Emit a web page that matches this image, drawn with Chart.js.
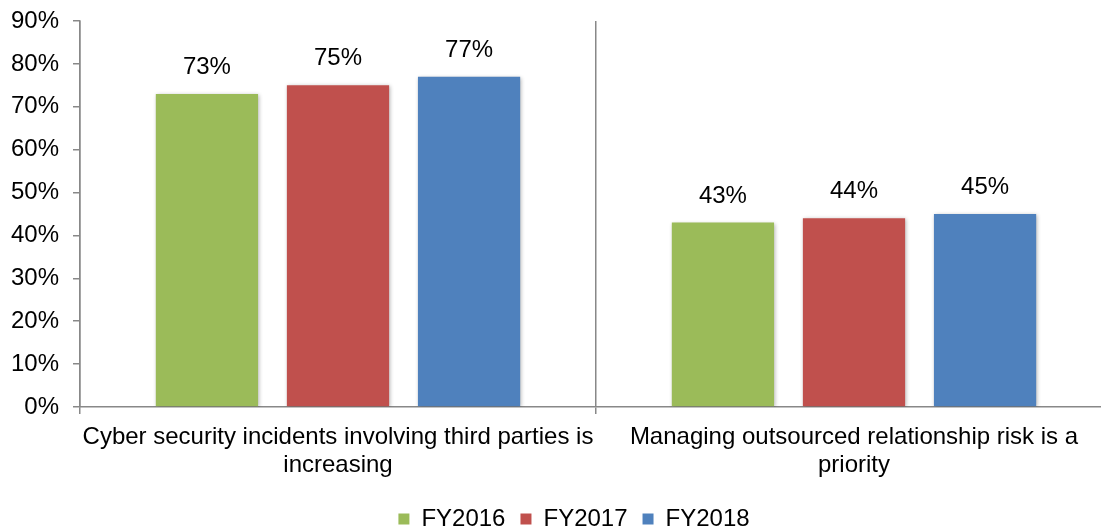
<!DOCTYPE html>
<html>
<head>
<meta charset="utf-8">
<script src="https://cdn.jsdelivr.net/npm/chart.js@4"></script>
<style>
  html, body { margin: 0; padding: 0; background: #fff; overflow: hidden; }
  #wrap { width: 1148px; height: 541px; position: relative; }
</style>
</head>
<body>
<div id="wrap"><canvas id="surveyChart"></canvas></div>
<script>
const categories = [
  ['Cyber security incidents involving third parties is', 'increasing'],
  ['Managing outsourced relationship risk is a', 'priority']
];
const seriesNames = ['FY2016', 'FY2017', 'FY2018'];
const fy2016 = [73, 43];
const fy2017 = [75, 44];
const fy2018 = [77, 45];
const yTicks = [0, 10, 20, 30, 40, 50, 60, 70, 80, 90];

const colors = ['#9BBB59', '#C0504D', '#4F81BD'];
const FONT = '"Liberation Sans", Arial, sans-serif';
const SIZE = 24;
Chart.defaults.font.family = FONT;
Chart.defaults.color = '#000';

// soft shadow round the bars
const barShadow = {
  id: 'barShadow',
  beforeDatasetsDraw(chart) {
    const ctx = chart.ctx;
    ctx.save();
    ctx.shadowColor = 'rgba(0,0,0,0.3)';
    ctx.shadowBlur = 4;
    ctx.shadowOffsetX = 1;
    ctx.shadowOffsetY = 1;
  },
  afterDatasetsDraw(chart) {
    chart.ctx.restore();
  }
};

// percentage above each bar
const valueLabels = {
  id: 'valueLabels',
  afterDatasetsDraw(chart) {
    const ctx = chart.ctx;
    ctx.save();
    ctx.font = SIZE + 'px ' + FONT;
    ctx.fillStyle = '#000';
    ctx.textAlign = 'center';
    ctx.textBaseline = 'alphabetic';
    chart.data.datasets.forEach((ds, i) => {
      chart.getDatasetMeta(i).data.forEach((bar, j) => {
        ctx.fillText(ds.data[j] + '%', bar.x, bar.y - 20);
      });
    });
    ctx.restore();
  }
};

// nudge the legend a little to the right of the canvas centre
const legendShift = {
  id: 'legendShift',
  afterUpdate(chart) {
    const lg = chart.legend;
    if (!lg) return;
    lg.left += 18;
    lg.right += 18;
    lg.adjustHitBoxes();
  }
};

const seriesData = [fy2016, fy2017, fy2018];

new Chart(document.getElementById('surveyChart'), {
  type: 'bar',
  data: {
    labels: categories,
    datasets: seriesNames.map((name, i) => ({
      label: name,
      data: seriesData[i],
      backgroundColor: colors[i],
      borderWidth: 0,
      categoryPercentage: 0.762,
      barPercentage: 0.78
    }))
  },
  options: {
    responsive: true,
    maintainAspectRatio: false,
    animation: false,
    layout: { padding: { top: 21, right: 36, left: 0, bottom: 0 } },
    plugins: {
      tooltip: { enabled: false },
      legend: {
        position: 'bottom',
        labels: {
          boxWidth: 11,
          boxHeight: 11,
          padding: 15,
          font: { size: SIZE },
          color: '#000'
        }
      }
    },
    scales: {
      x: {
        afterFit(scale) { scale.height = 85; },
        border: { color: '#888', width: 1.5 },
        grid: {
          offset: true,
          color: '#888',
          lineWidth: 1.5,
          tickLength: 7
        },
        ticks: {
          padding: 10,
          maxRotation: 0,
          autoSkip: false,
          font: { size: SIZE, lineHeight: 1.15 },
          color: '#000'
        }
      },
      y: {
        min: 0,
        max: 90,
        afterFit(scale) {
          scale.width = 80;
          scale.paddingTop = 0;
          scale.paddingBottom = 0;
        },
        afterBuildTicks(scale) { scale.ticks = yTicks.map(v => ({ value: v })); },
        border: { color: '#888', width: 1.5 },
        grid: {
          drawOnChartArea: false,
          color: '#888',
          lineWidth: 1.5,
          tickLength: 7
        },
        ticks: {
          padding: 14,
          font: { size: SIZE },
          color: '#000',
          callback: v => v + '%'
        }
      }
    }
  },
  plugins: [barShadow, valueLabels, legendShift]
});
</script>
</body>
</html>
